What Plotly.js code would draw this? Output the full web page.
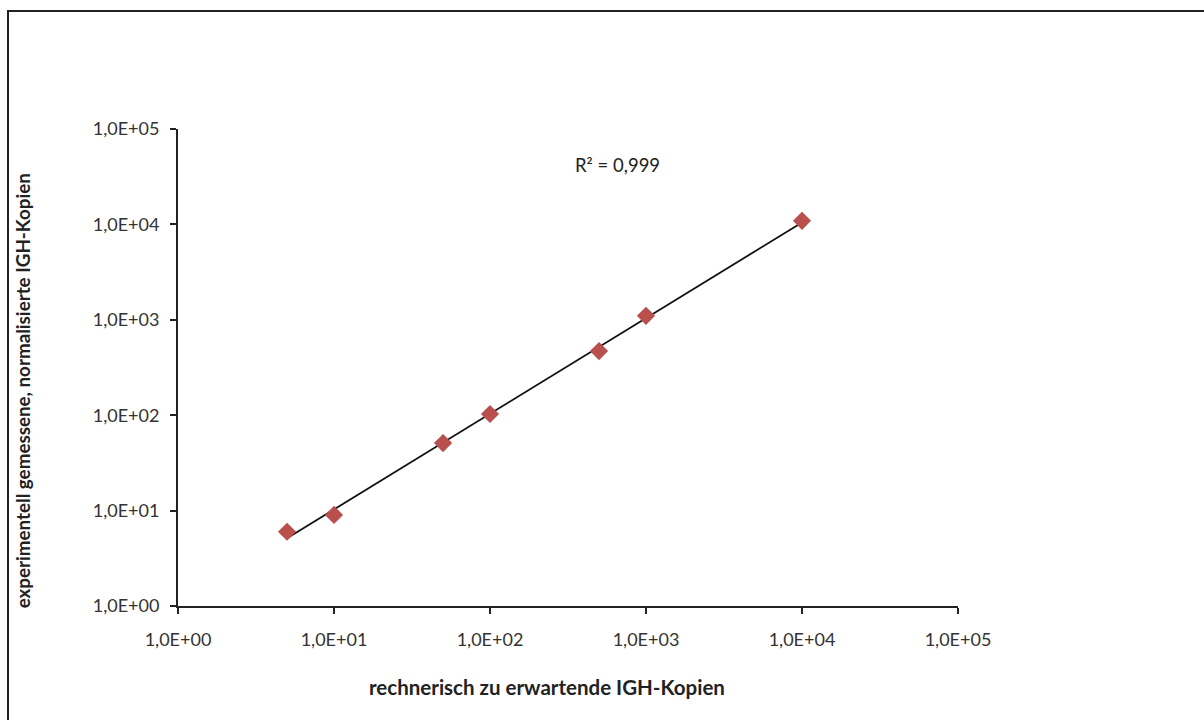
<!DOCTYPE html>
<html>
<head>
<meta charset="utf-8">
<script src="https://cdn.plot.ly/plotly-3.0.1.min.js"></script>
<style>html,body{margin:0;padding:0;background:#fff;}#chart{width:1204px;height:720px;}</style>
</head>
<body>
<div id="chart"></div>
<script>
var expectedCopies = [5, 10, 50, 100, 500, 1000, 10000];
var measuredCopies = [6.0, 9.0, 51, 103, 470, 1100, 10900];
var tickValues = [1, 10, 100, 1000, 10000, 100000];
var tickLabels = ["1,0E+00", "1,0E+01", "1,0E+02", "1,0E+03", "1,0E+04", "1,0E+05"];
var xTitle = "rechnerisch zu erwartende IGH-Kopien";
var yTitle = "experimentell gemessene, normalisierte IGH-Kopien";
var r2Label = "R² = 0,999";

// power trendline fitted in log space
var lx = expectedCopies.map(Math.log10), ly = measuredCopies.map(Math.log10);
var n = lx.length, mx = lx.reduce((a,b)=>a+b)/n, my = ly.reduce((a,b)=>a+b)/n;
var sxy = 0, sxx = 0;
for (var i=0;i<n;i++){ sxy += (lx[i]-mx)*(ly[i]-my); sxx += (lx[i]-mx)*(lx[i]-mx); }
var slope = sxy/sxx, icpt = my - slope*mx;
var xMin = Math.min.apply(null, expectedCopies), xMax = Math.max.apply(null, expectedCopies);
var trendX = [xMin, xMax];
var trendY = trendX.map(function(v){ return Math.pow(10, icpt + slope*Math.log10(v)); });

var font = "Lato, 'Open Sans', sans-serif";
var traces = [
  {x: trendX, y: trendY, mode: "lines", line: {color: "#111", width: 1.8}, hoverinfo: "skip", showlegend: false},
  {x: expectedCopies, y: measuredCopies, mode: "markers",
   marker: {symbol: "diamond", size: 14, color: "#b9504d"}, showlegend: false}
];
var axisCommon = {
  type: "log", range: [0, 5], tickvals: tickValues, ticktext: tickLabels,
  showgrid: false, zeroline: false, showline: true, linecolor: "#222", linewidth: 2,
  ticks: "outside", ticklen: 6, tickwidth: 2, tickcolor: "#222",
  tickfont: {family: font, size: 18, color: "#333"}
};
var layout = {
  width: 1204, height: 720,
  margin: {l: 178, r: 246, t: 129, b: 114},
  paper_bgcolor: "#fff", plot_bgcolor: "#fff",
  xaxis: Object.assign({}, axisCommon, {ticklabelstandoff: 10}),
  yaxis: Object.assign({}, axisCommon, {ticklabelstandoff: 7}),
  annotations: [
    {xref: "paper", yref: "paper", x: 0.473, y: -0.17, text: xTitle, showarrow: false,
     font: {family: font, size: 20.5, color: "#222", weight: "bold"}, xanchor: "center", yanchor: "middle"},
    {xref: "paper", yref: "paper", x: -0.2, y: 0.45, text: yTitle, showarrow: false, textangle: -90,
     font: {family: font, size: 18.8, color: "#222", weight: "bold"}, xanchor: "center", yanchor: "middle"},
    {xref: "paper", yref: "paper", x: 0.563, y: 0.925, text: r2Label, showarrow: false,
     font: {family: font, size: 18.5, color: "#222"}, xanchor: "center", yanchor: "middle"}
  ],
  shapes: [
    {type: "rect", xref: "paper", yref: "paper",
     x0: (8-178)/780, x1: (1210-178)/780, y0: (606-725)/477, y1: (606-11)/477,
     line: {color: "#222", width: 2}, fillcolor: "rgba(0,0,0,0)", layer: "below"}
  ]
};
Plotly.newPlot("chart", traces, layout, {displayModeBar: false, staticPlot: true});
</script>
</body>
</html>
